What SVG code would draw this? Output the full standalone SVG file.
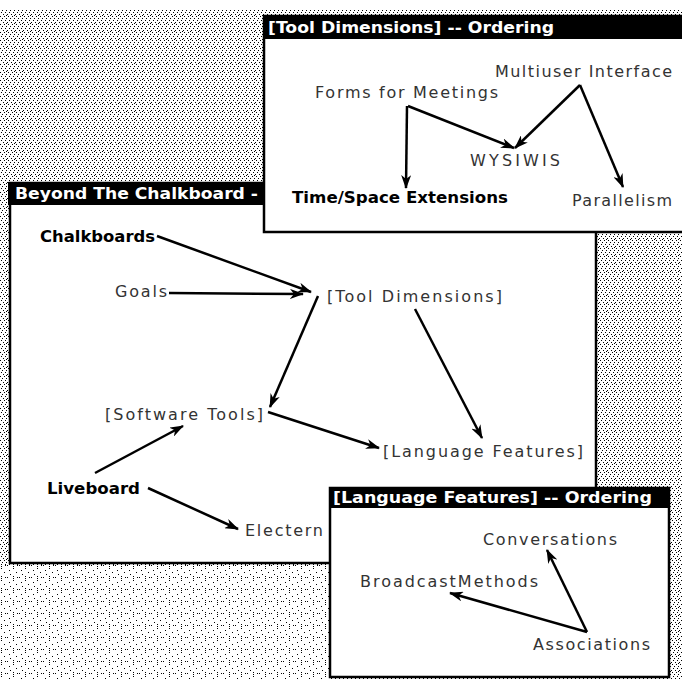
<svg xmlns="http://www.w3.org/2000/svg" width="682" height="679" viewBox="0 0 682 679">
<defs>
<pattern id="dither" x="0" y="0" width="8" height="8" patternUnits="userSpaceOnUse">
<rect x="0" y="0" width="1" height="1" fill="#000"/>
<rect x="4" y="0" width="1" height="1" fill="#000"/>
<rect x="2" y="2" width="1" height="1" fill="#000"/>
<rect x="6" y="2" width="1" height="1" fill="#000"/>
<rect x="1" y="4" width="1" height="1" fill="#000"/>
<rect x="5" y="4" width="1" height="1" fill="#000"/>
<rect x="3" y="6" width="1" height="1" fill="#000"/>
<rect x="7" y="6" width="1" height="1" fill="#000"/>
<rect x="6" y="7" width="1" height="1" fill="#000"/>
</pattern>
<pattern id="sparse" x="0" y="563" width="12" height="12" patternUnits="userSpaceOnUse">
<rect x="1" y="1" width="1" height="1" fill="#000"/>
<rect x="1" y="3" width="1" height="1" fill="#000"/>
<rect x="1" y="5" width="1" height="1" fill="#000"/>
<rect x="5" y="2" width="1" height="1" fill="#000"/>
<rect x="7" y="2" width="1" height="1" fill="#000"/>
<rect x="9" y="7" width="1" height="1" fill="#000"/>
<rect x="4" y="9" width="1" height="1" fill="#000"/>
<rect x="10" y="11" width="1" height="1" fill="#000"/>
</pattern>
<marker id="ah" viewBox="0 0 14 10" refX="13" refY="5" markerWidth="14" markerHeight="10" markerUnits="userSpaceOnUse" orient="auto">
<path d="M0,0 L14,5 L0,10 L4,5 Z" fill="#000"/>
</marker>
<style>
.win{fill:#fff;stroke:#000;stroke-width:2.5}
.bar{fill:#000}
.title{font-family:"DejaVu Sans","Liberation Sans",sans-serif;font-weight:bold;font-size:15px;fill:#fff}
.bold{font-family:"DejaVu Sans","Liberation Sans",sans-serif;font-weight:bold;font-size:15px;fill:#000}
.lbl{font-family:"DejaVu Sans","Liberation Sans",sans-serif;font-size:16px;fill:#333}
.edge{fill:none;stroke:#000;stroke-width:2.5;marker-end:url(#ah)}
</style>
</defs>

<rect x="0" y="0" width="682" height="679" fill="#fff"/>
<rect x="0" y="10" width="682" height="669" fill="url(#dither)"/>
<rect x="0" y="565" width="330" height="114" fill="#fff"/>
<rect x="0" y="565" width="330" height="114" fill="url(#sparse)"/>

<g id="window-beyond">
<rect class="win" x="10" y="183" width="586" height="380"/>
<rect class="bar" x="8" y="182" width="590" height="23"/>
<text class="title" x="15" y="199" textLength="243" lengthAdjust="spacingAndGlyphs">Beyond The Chalkboard -</text>
</g>

<g id="node-chalkboards"><text class="bold" x="40" y="242" textLength="115" lengthAdjust="spacingAndGlyphs">Chalkboards</text></g>
<g id="node-goals"><text class="lbl" x="115" y="297" textLength="52" lengthAdjust="spacing">Goals</text></g>
<g id="node-tooldims"><text class="lbl" x="327" y="302" textLength="175" lengthAdjust="spacing">[Tool Dimensions]</text></g>
<g id="node-software"><text class="lbl" x="105" y="420" textLength="158" lengthAdjust="spacing">[Software Tools]</text></g>
<g id="node-langfeat"><text class="lbl" x="383" y="457" textLength="200" lengthAdjust="spacing">[Language Features]</text></g>
<g id="node-liveboard"><text class="bold" x="47" y="494" textLength="93" lengthAdjust="spacingAndGlyphs">Liveboard</text></g>
<g id="node-electern"><text class="lbl" x="245" y="536" textLength="78" lengthAdjust="spacing">Electern</text></g>

<g id="connectors-beyond">
<path class="edge" d="M157,236 L311,292"/>
<path class="edge" d="M169,293 L303,294"/>
<path class="edge" d="M318,296 L270,407"/>
<path class="edge" d="M268,412 L379,448"/>
<path class="edge" d="M415,309 L482,438"/>
<path class="edge" d="M95,473 L183,426"/>
<path class="edge" d="M148,488 L238,529"/>
</g>

<g id="window-tooldims">
<rect class="win" x="264" y="16" width="420" height="216"/>
<rect class="bar" x="263" y="16" width="421" height="23"/>
<text class="title" x="268" y="33" textLength="286" lengthAdjust="spacingAndGlyphs">[Tool Dimensions] -- Ordering</text>
</g>

<g id="node-multiuser"><text class="lbl" x="495" y="77" textLength="177" lengthAdjust="spacing">Multiuser Interface</text></g>
<g id="node-forms"><text class="lbl" x="315" y="98" textLength="183" lengthAdjust="spacing">Forms for Meetings</text></g>
<g id="node-wysiwis"><text class="lbl" x="470" y="166" textLength="90" lengthAdjust="spacing">WYSIWIS</text></g>
<g id="node-timespace"><text class="bold" x="292" y="203" textLength="216" lengthAdjust="spacingAndGlyphs">Time/Space Extensions</text></g>
<g id="node-parallelism"><text class="lbl" x="572" y="206" textLength="100" lengthAdjust="spacing">Parallelism</text></g>

<g id="connectors-tooldims">
<path class="edge" d="M408,106 L514,148"/>
<path class="edge" d="M407,106 L406,188"/>
<path class="edge" d="M580,85 L515,148"/>
<path class="edge" d="M580,85 L623,187"/>
</g>

<g id="window-langfeat">
<rect class="win" x="330" y="488" width="339" height="189"/>
<rect class="bar" x="329" y="487" width="340" height="21"/>
<text class="title" x="333" y="503" textLength="319" lengthAdjust="spacingAndGlyphs">[Language Features] -- Ordering</text>
</g>

<g id="node-conversations"><text class="lbl" x="483" y="545" textLength="134" lengthAdjust="spacing">Conversations</text></g>
<g id="node-broadcast"><text class="lbl" x="360" y="587" textLength="178" lengthAdjust="spacing">BroadcastMethods</text></g>
<g id="node-associations"><text class="lbl" x="533" y="650" textLength="117" lengthAdjust="spacing">Associations</text></g>

<g id="connectors-langfeat">
<path class="edge" d="M587,632 L547,550"/>
<path class="edge" d="M587,632 L450,593"/>
</g>
</svg>
